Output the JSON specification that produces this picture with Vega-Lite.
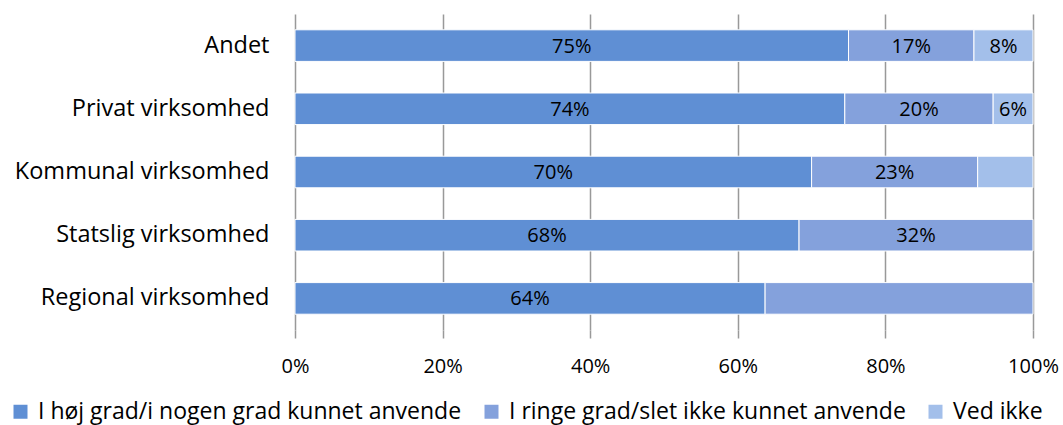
{
  "$schema": "https://vega.github.io/schema/vega-lite/v6.json",
  "width": 738,
  "height": 316,
  "autosize": {"type": "none"},
  "padding": {"left": 295, "top": 14, "right": 30, "bottom": 95},
  "background": "white",
  "config": {
    "font": "Open Sans",
    "view": {"stroke": null}
  },
  "data": {
    "values": [
      {"kategori": "Andet", "serie": "I høj grad/i nogen grad kunnet anvende", "orden": 1, "andel": 75, "etikett": "75%"},
      {"kategori": "Andet", "serie": "I ringe grad/slet ikke kunnet anvende", "orden": 2, "andel": 17, "etikett": "17%"},
      {"kategori": "Andet", "serie": "Ved ikke", "orden": 3, "andel": 8, "etikett": "8%"},
      {"kategori": "Privat virksomhed", "serie": "I høj grad/i nogen grad kunnet anvende", "orden": 1, "andel": 74.5, "etikett": "74%"},
      {"kategori": "Privat virksomhed", "serie": "I ringe grad/slet ikke kunnet anvende", "orden": 2, "andel": 20.1, "etikett": "20%"},
      {"kategori": "Privat virksomhed", "serie": "Ved ikke", "orden": 3, "andel": 5.4, "etikett": "6%"},
      {"kategori": "Kommunal virksomhed", "serie": "I høj grad/i nogen grad kunnet anvende", "orden": 1, "andel": 70, "etikett": "70%"},
      {"kategori": "Kommunal virksomhed", "serie": "I ringe grad/slet ikke kunnet anvende", "orden": 2, "andel": 22.5, "etikett": "23%"},
      {"kategori": "Kommunal virksomhed", "serie": "Ved ikke", "orden": 3, "andel": 7.5, "etikett": ""},
      {"kategori": "Statslig virksomhed", "serie": "I høj grad/i nogen grad kunnet anvende", "orden": 1, "andel": 68.3, "etikett": "68%"},
      {"kategori": "Statslig virksomhed", "serie": "I ringe grad/slet ikke kunnet anvende", "orden": 2, "andel": 31.7, "etikett": "32%"},
      {"kategori": "Regional virksomhed", "serie": "I høj grad/i nogen grad kunnet anvende", "orden": 1, "andel": 63.7, "etikett": "64%"},
      {"kategori": "Regional virksomhed", "serie": "I ringe grad/slet ikke kunnet anvende", "orden": 2, "andel": 36.3, "etikett": ""}
    ]
  },
  "transform": [
    {"stack": "andel", "groupby": ["kategori"], "sort": [{"field": "orden", "order": "ascending"}], "as": ["x0", "x1"]},
    {"calculate": "(datum.x0 + datum.x1) / 2", "as": "xmid"}
  ],
  "encoding": {
    "y": {
      "field": "kategori",
      "type": "nominal",
      "sort": ["Andet", "Privat virksomhed", "Kommunal virksomhed", "Statslig virksomhed", "Regional virksomhed"],
      "scale": {"paddingInner": 0.5, "paddingOuter": 0.25},
      "axis": {
        "title": null,
        "domain": false,
        "ticks": false,
        "labelFontSize": 23.5,
        "labelColor": "#000000",
        "labelPadding": 26,
        "labelLimit": 300
      }
    }
  },
  "layer": [
    {
      "mark": {"type": "bar", "stroke": "white", "strokeWidth": 1},
      "encoding": {
        "x": {
          "field": "x0",
          "type": "quantitative",
          "scale": {"domain": [0, 100], "nice": false},
          "axis": {
            "title": null,
            "values": [0, 20, 40, 60, 80, 100],
            "labelExpr": "datum.value + '%'",
            "grid": true,
            "gridColor": "#999999",
            "gridWidth": 1.5,
            "domain": false,
            "ticks": true,
            "tickColor": "#999999",
            "tickWidth": 1.5,
            "tickSize": 8,
            "labelFontSize": 20,
            "labelColor": "#000000",
            "labelPadding": 18,
            "labelFlush": false
          }
        },
        "x2": {"field": "x1"},
        "color": {
          "field": "serie",
          "type": "nominal",
          "scale": {
            "domain": ["I høj grad/i nogen grad kunnet anvende", "I ringe grad/slet ikke kunnet anvende", "Ved ikke"],
            "range": ["#5F8FD4", "#84A1DC", "#A3BFEA"]
          },
          "legend": {
            "title": null,
            "orient": "none",
            "direction": "horizontal",
            "legendX": -286,
            "legendY": 386,
            "symbolType": "square",
            "symbolSize": 196,
            "symbolStrokeWidth": 0,
            "labelFontSize": 23,
            "labelColor": "#000000",
            "labelLimit": 700,
            "labelOffset": 6,
            "columnPadding": 18
          }
        },
        "order": {"field": "orden", "type": "quantitative"}
      }
    },
    {
      "mark": {"type": "text", "fontSize": 20, "color": "#000000", "baseline": "middle", "dy": 1},
      "encoding": {
        "x": {"field": "xmid", "type": "quantitative"},
        "text": {"field": "etikett"}
      }
    }
  ]
}
